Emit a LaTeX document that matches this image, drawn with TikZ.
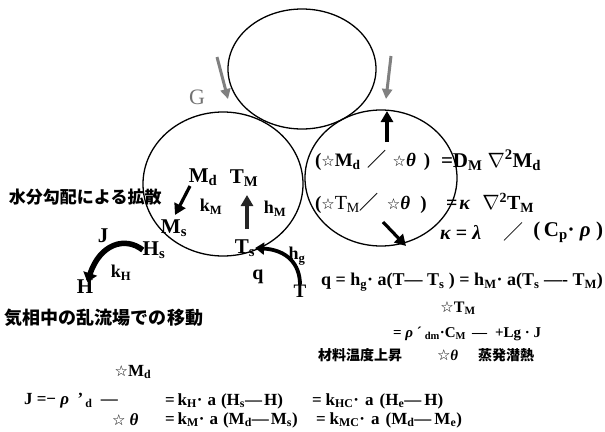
\documentclass[tikz,border=0pt]{standalone}
\usepackage{fontspec}
\setmainfont{Liberation Serif}
\newfontfamily\jpfont{Noto Sans CJK JP}
\newfontfamily\symfont{DejaVu Sans}
\usetikzlibrary{arrows.meta}
\newcommand\wstar{{\symfont\mdseries\fontsize{15}{15}\selectfont ☆}}
\newcommand\sbs[1]{\textsubscript{#1}}
\newcommand\gr[1]{\textit{#1}}
\newcommand\gap[1]{\hspace{#1pt}}
\begin{document}
\begin{tikzpicture}[x=1pt,y=-1pt,
  every node/.style={inner sep=0pt,outer sep=0pt},
  lbl/.style={font=\bfseries\fontsize{21}{24}\selectfont},
  slbl/.style={font=\bfseries\fontsize{18}{20}\selectfont},
  eqn/.style={font=\bfseries\fontsize{19}{22}\selectfont,anchor=west},
  eqe/.style={font=\bfseries\fontsize{19}{22}\selectfont,anchor=east},
  beqn/.style={font=\bfseries\fontsize{17}{20}\selectfont,anchor=west},
  jtxt/.style={font=\jpfont\bfseries\fontsize{17}{20}\selectfont,anchor=west},
  circ/.style={line width=1.3pt},
  grayarrow/.style={draw=black!50,line width=3pt,-{Triangle[length=10pt,width=10pt]}},
  blackarrow/.style={draw=black,line width=3.2pt,-{Triangle[length=11pt,width=12pt]}},
  fluxarrow/.style={draw=black,line width=5.5pt,-{Triangle[length=9pt,width=14pt]}}]
\useasboundingbox (0,0) rectangle (605,431);
% circles
\coordinate (ctop) at (302,69);
\coordinate (cleft) at (223,184);
\coordinate (cright) at (381,178);
\draw[circ] (ctop) ellipse [x radius=74pt, y radius=60pt];
\draw[circ] (cleft) ellipse [x radius=80pt, y radius=72pt];
\draw[circ] (cright) ellipse [x radius=76pt, y radius=68pt];
% gray inflow arrows
\node[font=\fontsize{22}{22}\selectfont,text=black!55] (G) at (197,97) {G};
\coordinate (ga1s) at (217,57); \coordinate (ga1e) at (228,99);
\coordinate (ga2s) at (391,56); \coordinate (ga2e) at (386,99);
\draw[grayarrow] (ga1s) -- (ga1e);
\draw[grayarrow] (ga2s) -- (ga2e);
% right circle arrows
\coordinate (ups) at (387,142); \coordinate (upe) at (387,111);
\draw[blackarrow] (ups) -- (upe);
\coordinate (dgs) at (383,222); \coordinate (dge) at (406,246);
\draw[blackarrow] (dgs) -- (dge);
% left circle labels
\node[lbl] (Md) at (203,177) {M\sbs{d}};
\node[lbl] (TM) at (244,178) {T\sbs{M}};
\node[slbl] (kM) at (211,207) {k\sbs{M}};
\node[slbl] (hM) at (275,209) {h\sbs{M}};
\node[lbl] (Ms) at (174,228) {M\sbs{s}};
\node[lbl] (Ts) at (245,248) {T\sbs{s}};
\node[lbl] (Hs) at (154,250) {H\sbs{s}};
\coordinate (dfs) at (190,186); \coordinate (dfe) at (175,215);
\draw[blackarrow] (dfs) -- (dfe);
\coordinate (hts) at (247,229); \coordinate (hte) at (247,195);
\draw[blackarrow,draw=black!85] (hts) -- (hte);
\node[jtxt] (diff) at (9,197) {水分勾配による拡散};
% lower left
\node[lbl] (J) at (103,236) {J};
\node[slbl] (kH) at (121,273) {k\sbs{H}};
\node[lbl] (H) at (85,287) {H};
\draw[fluxarrow,shorten >=-2pt] (Hs.west) .. controls (125,236) and (100,244) .. ([xshift=3pt]H.north);
\node[lbl,font=\bfseries\fontsize{20}{22}\selectfont] (q) at (258,277) {q};
\node[slbl] (hg) at (297,256) {h\sbs{g}};
\node[lbl,font=\bfseries\fontsize{19}{22}\selectfont] (T) at (300,291) {T};
\draw[draw=black,line width=3.8pt,-{Triangle[length=9pt,width=12pt]}] (T.north) .. controls (300,264) and (287,250) .. (Ts.east);
\node[jtxt,font=\jpfont\bfseries\fontsize{18}{20}\selectfont] (turb) at (5,318) {気相中の乱流場での移動};
% right equations
\node[eqn] (eq1l) at (315,160) {(\wstar M\sbs{d}\gap{7}{\jpfont ／}\gap{6}\wstar\gr{θ}\gap{8})};
\node[eqn,font=\bfseries\fontsize{21}{22}\selectfont] (eq1r) at (441,160) {=D\sbs{M}\gap{5}$\nabla$\textsuperscript{2}M\sbs{d}};
\node[eqn] (eq2l) at (315,203) {(\wstar{\mdseries\fontsize{20}{22}\selectfont T\sbs{M}}{\jpfont ／}\gap{8}\wstar\gr{θ}\gap{10})};
\node[eqn,font=\bfseries\fontsize{20}{22}\selectfont] (eq2r) at (446,203) {=\gap{2}\gr{κ}\gap{12}$\nabla$\textsuperscript{2}T\sbs{M}};
\node[eqn,font=\bfseries\fontsize{20}{22}\selectfont] (eq3l) at (440,232) {\gr{κ}\ =\ \gr{λ}};
\node[font=\jpfont\fontsize{20}{22}\selectfont] (eq3s) at (513,232) {／};
\node[eqe,font=\bfseries\fontsize{21}{22}\selectfont] (eq3r) at (603,232) {(\,C\sbs{p}·\ \gr{ρ}\ )};
\node[eqn,font=\bfseries\fontsize{18}{20}\selectfont] (eqq) at (321,282) {q = h\sbs{g}· a(T— T\sbs{s} ) = h\sbs{M}· a(T\sbs{s} —- T\sbs{M})};
\node[lbl,font=\bfseries\fontsize{16}{18}\selectfont] (dTM) at (458,308) {\wstar T\sbs{M}};
\node[eqn,font=\bfseries\fontsize{15}{18}\selectfont] (eqr) at (393,334) {=\ \gr{ρ}\ ´\gap{3}\sbs{dm}·C\sbs{M}\gap{6}—\gap{8}+Lg\ ·\ J};
\node[jtxt,font=\jpfont\bfseries\fontsize{14}{16}\selectfont] (mat) at (318,355) {材料温度上昇};
\node[eqn,font=\bfseries\fontsize{15}{16}\selectfont] (dth1) at (437,355) {\wstar\gr{θ}};
\node[jtxt,font=\jpfont\bfseries\fontsize{14}{16}\selectfont] (evap) at (478,355) {蒸発潜熱};
% bottom equations
\node[lbl,font=\bfseries\fontsize{17}{18}\selectfont] (dMd) at (133,372) {\wstar M\sbs{d}};
\node[beqn] (Jl) at (24,401) {J =− \gr{ρ}\ \ '\gap{2}\sbs{d}\ \ —};
\node[beqn] (Jm) at (165,401) {=\gap{3}k\sbs{H}·\gap{5}a\gap{5}(H\sbs{s}—\gap{2}H)};
\node[beqn] (Jr) at (312,401) {=\gap{4}k\sbs{HC}·\gap{6}a\gap{6}(H\sbs{e}—\gap{3}H)};
\node[beqn] (tl) at (112,420) {\wstar\ \gr{θ}};
\node[beqn] (tm) at (165,420) {=\gap{3}k\sbs{M}·\gap{5}a\gap{5}(M\sbs{d}—\gap{2}M\sbs{s})};
\node[beqn] (tr) at (316,420) {=\gap{4}k\sbs{MC}·\gap{6}a\gap{6}(M\sbs{d}—\gap{3}M\sbs{e})};
\end{tikzpicture}
\end{document}
